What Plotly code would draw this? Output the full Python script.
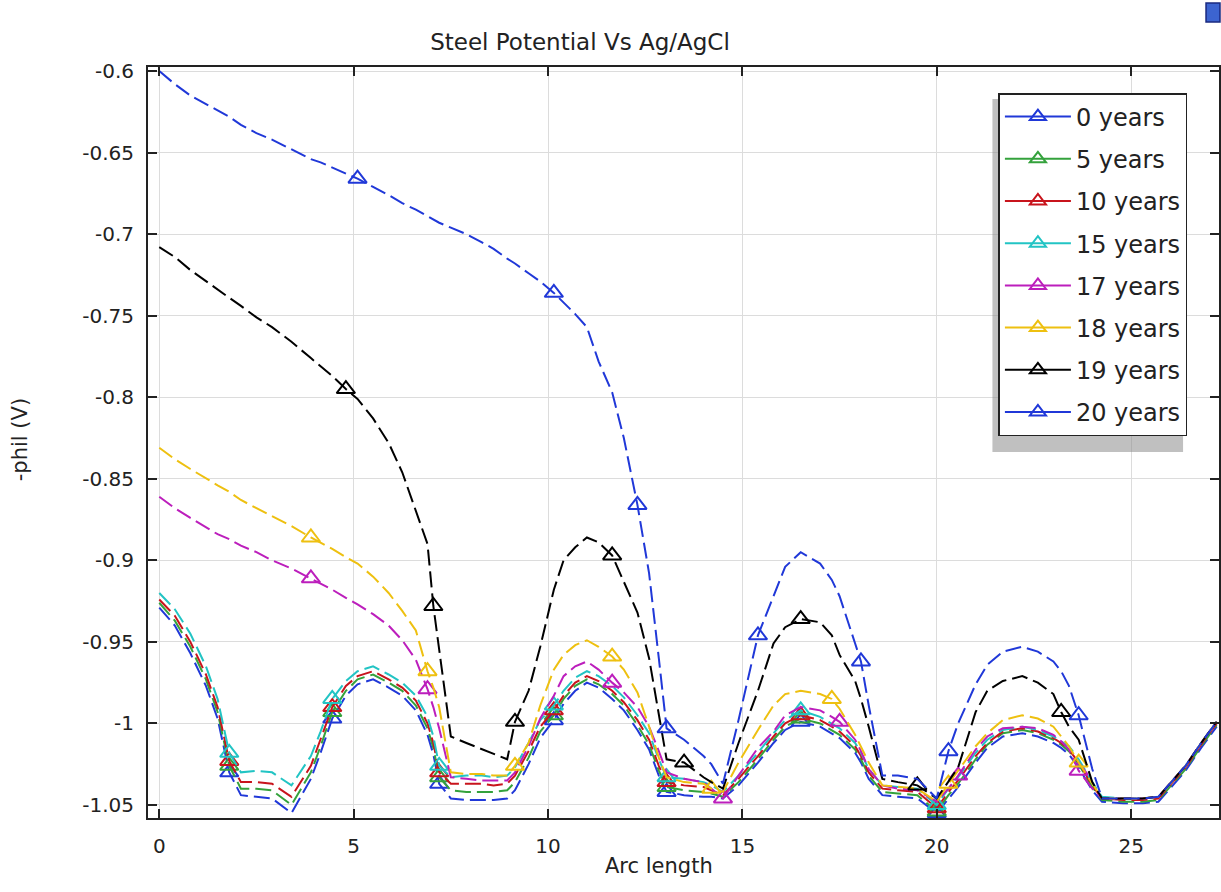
import plotly.graph_objects as go

# Arc length along the steel surface (shared sampling for all curves)
arc = [0.0, 0.4, 0.8, 1.2, 1.5, 1.8, 2.1, 2.5, 2.9, 3.4,
       3.9, 4.15, 4.45, 4.8, 5.1, 5.5, 5.9, 6.25, 6.6, 6.9,
       7.05, 7.2, 7.5, 7.9, 8.3, 8.6, 8.95, 9.15, 9.5, 9.8,
       10.15, 10.4, 10.7, 11.0, 11.3, 11.65, 11.95, 12.3, 12.6, 12.85,
       13.05, 13.5, 14.0, 14.2, 14.5, 14.9, 15.4, 15.8, 16.1, 16.5,
       17.0, 17.3, 17.5, 17.9, 18.05, 18.25, 18.6, 19.0, 19.5, 20.0,
       20.3, 20.55, 21.0, 21.3, 21.7, 22.2, 22.6, 23.0, 23.2, 23.4,
       23.65, 24.0, 24.25, 24.8, 25.3, 25.7, 26.0, 26.4, 26.8, 27.2]

# -phil (V) for each exposure time
phil_0y = [-0.929, -0.940, -0.957, -0.977, -0.997, -1.030, -1.044, -1.045, -1.046, -1.055,
           -1.034, -1.018, -0.997, -0.983, -0.976, -0.973, -0.978, -0.983, -0.992, -1.007,
           -1.019, -1.037, -1.046, -1.047, -1.047, -1.047, -1.046, -1.041, -1.025, -1.009,
           -0.998, -0.988, -0.980, -0.975, -0.978, -0.985, -0.992, -1.004, -1.016, -1.032,
           -1.042, -1.044, -1.045, -1.045, -1.046, -1.038, -1.024, -1.012, -1.004, -0.999,
           -1.002, -1.006, -1.009, -1.018, -1.024, -1.034, -1.044, -1.045, -1.046, -1.055,
           -1.046, -1.039, -1.024, -1.015, -1.008, -1.006, -1.008, -1.012, -1.015, -1.019,
           -1.027, -1.041, -1.048, -1.049, -1.049, -1.048, -1.040, -1.029, -1.015, -1.002]

phil_5y = [-0.926, -0.937, -0.953, -0.973, -0.993, -1.026, -1.040, -1.040, -1.041, -1.050,
           -1.030, -1.014, -0.993, -0.980, -0.973, -0.970, -0.975, -0.980, -0.989, -1.003,
           -1.015, -1.033, -1.041, -1.042, -1.042, -1.042, -1.041, -1.036, -1.021, -1.005,
           -0.995, -0.985, -0.977, -0.973, -0.976, -0.982, -0.989, -1.001, -1.013, -1.029,
           -1.039, -1.041, -1.042, -1.043, -1.045, -1.036, -1.022, -1.010, -1.002, -0.997,
           -1.000, -1.004, -1.007, -1.016, -1.022, -1.032, -1.042, -1.043, -1.044, -1.054,
           -1.044, -1.037, -1.022, -1.013, -1.006, -1.004, -1.006, -1.010, -1.013, -1.017,
           -1.025, -1.039, -1.047, -1.048, -1.048, -1.047, -1.039, -1.028, -1.014, -1.001]

phil_10y = [-0.924, -0.934, -0.950, -0.970, -0.990, -1.023, -1.036, -1.036, -1.037, -1.045,
            -1.026, -1.010, -0.990, -0.977, -0.971, -0.968, -0.973, -0.978, -0.986, -1.000,
            -1.012, -1.030, -1.037, -1.037, -1.037, -1.038, -1.037, -1.032, -1.017, -1.002,
            -0.992, -0.983, -0.975, -0.971, -0.974, -0.980, -0.987, -0.998, -1.010, -1.026,
            -1.036, -1.038, -1.039, -1.041, -1.044, -1.034, -1.020, -1.008, -1.000, -0.995,
            -0.998, -1.002, -1.005, -1.014, -1.020, -1.030, -1.040, -1.041, -1.042, -1.052,
            -1.042, -1.035, -1.020, -1.012, -1.005, -1.003, -1.005, -1.009, -1.012, -1.016,
            -1.024, -1.038, -1.046, -1.047, -1.047, -1.046, -1.038, -1.027, -1.013, -1.000]

phil_15y = [-0.920, -0.930, -0.945, -0.965, -0.985, -1.018, -1.030, -1.029, -1.030, -1.038,
            -1.020, -1.005, -0.985, -0.974, -0.968, -0.965, -0.970, -0.975, -0.983, -0.996,
            -1.008, -1.026, -1.033, -1.032, -1.032, -1.033, -1.032, -1.027, -1.012, -0.998,
            -0.989, -0.980, -0.972, -0.968, -0.971, -0.977, -0.984, -0.995, -1.006, -1.022,
            -1.033, -1.034, -1.036, -1.038, -1.042, -1.032, -1.018, -1.006, -0.998, -0.992,
            -0.996, -1.000, -1.003, -1.012, -1.018, -1.028, -1.038, -1.039, -1.040, -1.050,
            -1.040, -1.033, -1.018, -1.010, -1.004, -1.002, -1.004, -1.008, -1.011, -1.014,
            -1.022, -1.036, -1.045, -1.046, -1.046, -1.045, -1.037, -1.026, -1.012, -0.999]

phil_17y = [-0.861, -0.868, -0.874, -0.880, -0.884, -0.887, -0.891, -0.895, -0.900, -0.905,
            -0.911, -0.914, -0.918, -0.923, -0.927, -0.933, -0.940, -0.949, -0.961, -0.979,
            -0.990, -1.003, -1.033, -1.034, -1.035, -1.035, -1.035, -1.030, -1.014, -0.997,
            -0.983, -0.971, -0.965, -0.962, -0.967, -0.975, -0.981, -0.990, -1.002, -1.017,
            -1.030, -1.034, -1.036, -1.040, -1.046, -1.032, -1.015, -1.005, -0.995, -0.990,
            -0.992, -0.996, -0.999, -1.010, -1.017, -1.028, -1.038, -1.040, -1.041, -1.048,
            -1.040, -1.032, -1.016, -1.008, -1.003, -1.002, -1.003, -1.007, -1.011, -1.016,
            -1.029, -1.040, -1.046, -1.046, -1.046, -1.045, -1.037, -1.026, -1.012, -0.999]

phil_18y = [-0.831, -0.838, -0.844, -0.850, -0.854, -0.858, -0.863, -0.868, -0.873, -0.879,
            -0.886, -0.889, -0.893, -0.898, -0.902, -0.910, -0.920, -0.931, -0.943, -0.968,
            -0.978, -0.990, -1.030, -1.031, -1.031, -1.032, -1.032, -1.026, -1.012, -0.989,
            -0.967, -0.958, -0.952, -0.949, -0.953, -0.959, -0.967, -0.981, -1.002, -1.021,
            -1.033, -1.036, -1.037, -1.040, -1.042, -1.024, -1.004, -0.989, -0.982, -0.980,
            -0.982, -0.985, -0.991, -1.007, -1.014, -1.024, -1.038, -1.039, -1.040, -1.048,
            -1.037, -1.029, -1.014, -1.006, -0.998, -0.995, -0.997, -1.002, -1.008, -1.014,
            -1.024, -1.037, -1.046, -1.046, -1.046, -1.045, -1.037, -1.026, -1.012, -0.999]

phil_19y = [-0.708, -0.714, -0.722, -0.729, -0.734, -0.739, -0.744, -0.751, -0.757, -0.766,
            -0.776, -0.781, -0.787, -0.795, -0.801, -0.813, -0.828, -0.846, -0.869, -0.890,
            -0.928, -0.954, -1.008, -1.012, -1.016, -1.019, -1.022, -0.999, -0.980, -0.953,
            -0.918, -0.900, -0.892, -0.886, -0.889, -0.897, -0.913, -0.932, -0.960, -0.995,
            -1.022, -1.024, -1.033, -1.036, -1.040, -1.012, -0.980, -0.951, -0.941, -0.936,
            -0.938, -0.946, -0.958, -0.974, -0.985, -1.002, -1.034, -1.036, -1.038, -1.046,
            -1.036, -1.027, -0.993, -0.980, -0.974, -0.971, -0.975, -0.982, -0.993, -1.002,
            -1.010, -1.036, -1.046, -1.046, -1.046, -1.045, -1.037, -1.026, -1.012, -0.999]

phil_20y = [-0.600, -0.608, -0.615, -0.620, -0.624, -0.628, -0.633, -0.638, -0.642, -0.648,
            -0.654, -0.656, -0.659, -0.663, -0.666, -0.671, -0.676, -0.681, -0.685, -0.689,
            -0.691, -0.693, -0.696, -0.700, -0.705, -0.709, -0.715, -0.718, -0.724, -0.729,
            -0.736, -0.742, -0.749, -0.757, -0.778, -0.797, -0.825, -0.866, -0.908, -0.960,
            -1.003, -1.010, -1.020, -1.025, -1.037, -0.998, -0.946, -0.922, -0.904, -0.895,
            -0.902, -0.912, -0.922, -0.951, -0.962, -0.989, -1.032, -1.032, -1.034, -1.046,
            -1.017, -1.000, -0.976, -0.964, -0.956, -0.953, -0.956, -0.962, -0.968, -0.977,
            -0.995, -1.028, -1.046, -1.046, -1.046, -1.045, -1.037, -1.026, -1.012, -0.999]

# Arc-length positions where each curve carries a marker
marks_base = [1.8, 4.45, 7.2, 10.15, 13.05, 16.5, 20.0]
marks_17y = [3.9, 6.9, 11.65, 14.5, 17.5, 20.55, 23.65]
marks_18y = [3.9, 6.9, 9.15, 11.65, 14.2, 17.3, 20.3, 23.65]
marks_19y = [4.8, 7.05, 9.15, 11.65, 13.5, 16.5, 19.5, 23.2]
marks_20y = [5.1, 10.15, 12.3, 13.05, 15.4, 18.05, 20.3, 23.65]

names = ["0 years", "5 years", "10 years", "15 years",
         "17 years", "18 years", "19 years", "20 years"]
colors = ["#2038d8", "#34a23c", "#c8141c", "#22c4c4",
          "#bc1ebc", "#eec010", "#000000", "#2038d8"]
values = [phil_0y, phil_5y, phil_10y, phil_15y,
          phil_17y, phil_18y, phil_19y, phil_20y]
marks = [marks_base, marks_base, marks_base, marks_base,
         marks_17y, marks_18y, marks_19y, marks_20y]

x_ticks = [0, 5, 10, 15, 20, 25]
y_ticks = [-0.6, -0.65, -0.7, -0.75, -0.8, -0.85, -0.9, -0.95, -1.0, -1.05]
y_ticklabels = ["-0.6", "-0.65", "-0.7", "-0.75", "-0.8", "-0.85",
                "-0.9", "-0.95", "-1", "-1.05"]

FONT = "DejaVu Sans"
TXT = "#222222"
W, H = 1221, 892
L, R, T, B = 148, 0, 67, 74
pw, ph = W - L - R, H - T - B


def px(x):
    return (x - L) / pw


def py(y):
    return (H - B - y) / ph


fig = go.Figure()

for name, ys, col, mk in zip(names, values, colors, marks):
    fig.add_trace(go.Scatter(
        x=arc, y=ys, mode="lines",
        line=dict(color=col, width=2, dash="16px,6px"),
        showlegend=False, hoverinfo="skip"))
    idx = [arc.index(v) for v in mk]
    fig.add_trace(go.Scatter(
        x=[arc[i] for i in idx], y=[ys[i] for i in idx], mode="markers",
        marker=dict(symbol="triangle-up-open", size=16, color=col,
                    line=dict(width=2, color=col)),
        showlegend=False, hoverinfo="skip"))

# Legend entries (solid line with marker)
for name, col in zip(names, colors):
    fig.add_trace(go.Scatter(
        x=[None], y=[None], mode="lines+markers", name=name,
        legendgroup=name,
        line=dict(color=col, width=2),
        marker=dict(symbol="triangle-up-open", size=14, color=col,
                    line=dict(width=2, color=col))))

axis_common = dict(
    showgrid=True, gridcolor="#dcdcdc", gridwidth=1,
    zeroline=False, showline=True, linecolor=TXT, linewidth=2,
    mirror="ticks", ticks="inside", ticklen=9, tickwidth=1.5,
    tickcolor=TXT,
    tickfont=dict(family=FONT, size=20, color=TXT),
)

fig.update_layout(
    width=W, height=H,
    margin=dict(l=L, r=R, t=T, b=B),
    paper_bgcolor="white", plot_bgcolor="white",
    title=dict(text="Steel Potential Vs Ag/AgCl", x=580 / W, xref="container",
               y=1 - 42 / H, yref="container", xanchor="center",
               yanchor="middle",
               font=dict(family=FONT, size=23, color=TXT)),
    xaxis=dict(range=[-0.29, 27.26], tickvals=x_ticks,
               ticklabelstandoff=9, **axis_common),
    yaxis=dict(range=[-1.058, -0.5975], tickvals=y_ticks,
               ticktext=y_ticklabels, ticklabelstandoff=8, **axis_common),
    legend=dict(x=px(1000), y=py(93), xanchor="left", yanchor="top",
                bgcolor="white", bordercolor=TXT, borderwidth=1.5,
                font=dict(family=FONT, size=24, color=TXT),
                traceorder="grouped", tracegroupgap=8, itemwidth=66),
    annotations=[
        dict(text="Arc length", x=px(660), y=py(866), xref="paper",
             yref="paper", showarrow=False, xanchor="center",
             yanchor="middle",
             font=dict(family=FONT, size=21, color=TXT)),
        dict(text="-phil (V)", x=px(20), y=py(440), xref="paper",
             yref="paper", showarrow=False, textangle=-90,
             xanchor="center", yanchor="middle",
             font=dict(family=FONT, size=21, color=TXT)),
    ],
    shapes=[
        # legend drop shadow
        dict(type="rect", xref="paper", yref="paper", layer="above",
             x0=px(994), x1=px(1185), y0=py(452), y1=py(99),
             line=dict(width=0), fillcolor="rgba(140,140,140,0.55)"),
        # small window icon in the top-right corner
        dict(type="rect", xref="paper", yref="paper", layer="above",
             x0=px(1208), x1=px(1222), y0=py(22), y1=py(3),
             line=dict(width=1.5, color="#1a2a80"), fillcolor="#3c64d0"),
    ],
)

fig.write_html("out.html")
